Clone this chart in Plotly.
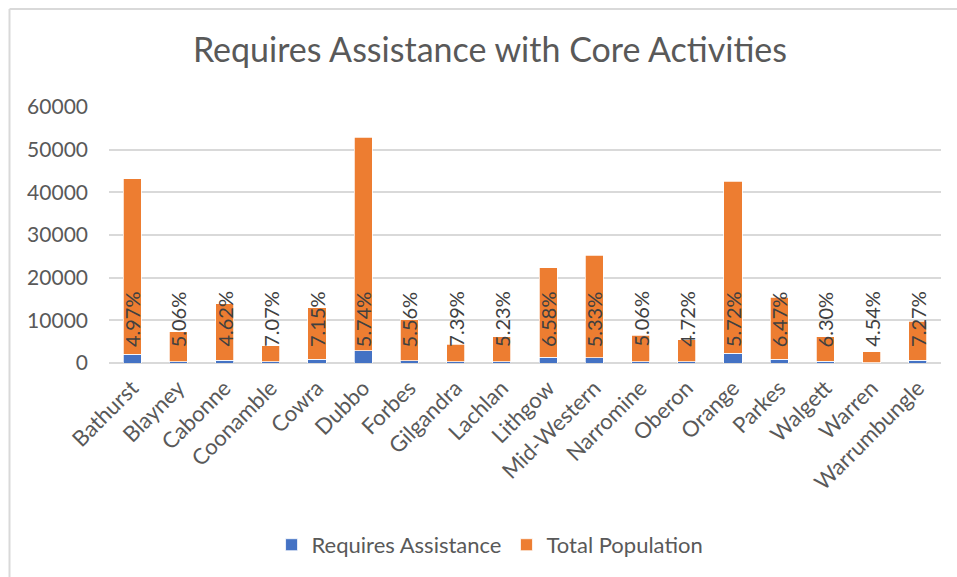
import plotly.graph_objects as go

categories = ["Bathurst", "Blayney", "Cabonne", "Coonamble", "Cowra", "Dubbo", "Forbes",
              "Gilgandra", "Lachlan", "Lithgow", "Mid-Western", "Narromine", "Oberon",
              "Orange", "Parkes", "Walgett", "Warren", "Warrumbungle"]
requires_assistance = [2040, 352, 614, 264, 867, 2870, 532, 299, 308, 1377, 1280, 313, 244,
                       2305, 936, 367, 113, 664]
total_population = [41100, 6950, 13290, 3740, 12130, 50030, 9570, 4050, 5890, 20920, 24020,
                    6190, 5160, 40290, 14460, 5830, 2490, 9140]
pct_labels = ["4.97%", "5.06%", "4.62%", "7.07%", "7.15%", "5.74%", "5.56%", "7.39%", "5.23%",
              "6.58%", "5.33%", "5.06%", "4.72%", "5.72%", "6.47%", "6.30%", "4.54%", "7.27%"]
y_ticks = [0, 10000, 20000, 30000, 40000, 50000, 60000]

FONT = "Lato, Open Sans, sans-serif"
TXT = "#595959"

fig = go.Figure()
fig.add_trace(go.Bar(x=categories, y=requires_assistance, name="Requires Assistance",
                     marker=dict(color="#4472C4", line=dict(color="white", width=0.75))))
fig.add_trace(go.Bar(x=categories, y=total_population, name="Total Population",
                     marker=dict(color="#ED7D31", line=dict(color="white", width=0.75))))

for c, t in zip(categories, pct_labels):
    fig.add_annotation(x=c, y=0, text=t, textangle=-90, showarrow=False,
                       yanchor="bottom", xanchor="center", yshift=14,
                       font=dict(family=FONT, size=20, color="#404040"))

ml, mr, mt, mb = 109, 16, 107, 213
W, H = 957, 577
pw, ph = W - ml - mr, H - mt - mb
bx = (9.5 - ml) / pw
by = (H - mb - 8.5) / ph
fig.add_shape(type="line", xref="paper", yref="paper", x0=bx, x1=bx, y0=-2, y1=by,
              line=dict(color="#d9d9d9", width=2))
fig.add_shape(type="line", xref="paper", yref="paper", x0=bx, x1=1.2, y0=by, y1=by,
              line=dict(color="#d9d9d9", width=2))

fig.update_layout(
    width=W, height=H,
    margin=dict(l=ml, r=mr, t=mt, b=mb),
    barmode="stack", bargap=0.61,
    paper_bgcolor="white", plot_bgcolor="white",
    font=dict(family=FONT, color=TXT, size=20),
    title=dict(text="Requires Assistance with Core Activities", x=0.512, y=0.913,
               xanchor="center", yanchor="middle",
               font=dict(family=FONT, size=34, color=TXT)),
    legend=dict(orientation="h", x=0.458, y=-0.704, xanchor="center", yanchor="middle",
                font=dict(family=FONT, size=22, color=TXT), itemwidth=30,
                traceorder="normal"),
    xaxis=dict(tickangle=-45, showgrid=False, showline=False, ticks="",
               ticklabelstandoff=7,
               tickfont=dict(family=FONT, size=22, color=TXT)),
    yaxis=dict(range=[0, 60000], tickvals=y_ticks, ticktext=[str(v) for v in y_ticks],
               showgrid=True, gridcolor="#d9d9d9", gridwidth=1.5, zeroline=True,
               zerolinecolor="#d9d9d9", zerolinewidth=1.5, showline=False, ticks="",
               ticklabelstandoff=20,
               tickfont=dict(family=FONT, size=21, color=TXT)),
)

fig.write_html("out.html")
